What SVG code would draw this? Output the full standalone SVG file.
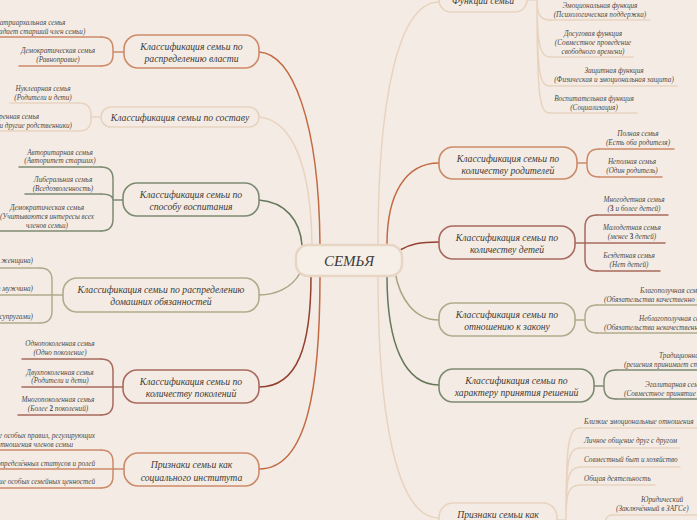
<svg xmlns="http://www.w3.org/2000/svg" width="697" height="520" viewBox="0 0 697 520">
<style>
.t{font-family:"Liberation Serif",serif;font-style:italic;font-size:9.7px;fill:#3d3a37;text-anchor:middle}
.c{font-family:"Liberation Serif",serif;font-style:italic;font-size:7.2px;fill:#4d4946;text-anchor:middle}
.s{text-anchor:start}.e{text-anchor:end}
.b{font-weight:bold;font-style:normal}
.n{fill:#f4ece4;stroke-width:1.6}
.l{fill:none;stroke-width:1.5;stroke-linecap:round}
.or{stroke:#c26a43}.orb{stroke:#cc8a69}
.lb{stroke:#e8d3c0}
.gr{stroke:#66775a}.grb{stroke:#7d8a72}
.ol{stroke:#a9a582}.olb{stroke:#b0ab8c}
.dr{stroke:#94402f}.drb{stroke:#a86a5e}
</style>
<rect width="697" height="520" fill="#f4ece4"/>

<g id="connectors">
  <path class="l or" d="M259,52 C292,54 319,120 320,245"/>
  <path class="l lb" d="M259,117 C292,120 311,165 312,245"/>
  <path class="l gr" d="M259,200 C285,202 300,220 302,245"/>
  <path class="l ol" d="M300,273 C292,288 275,295 259,295"/>
  <path class="l dr" d="M311,276 C311,345 298,387 259,387"/>
  <path class="l or" d="M320,276 C320,385 308,469 259,469"/>
  <path class="l lb" d="M378,244 C378,100 398,2 439,2"/>
  <path class="l or" d="M387,244 C387,195 405,163 439,163"/>
  <path class="l dr" d="M400,250 C410,244 420,242 439,242"/>
  <path class="l ol" d="M395,272 C400,300 415,320 439,320"/>
  <path class="l gr" d="M387,276 C387,345 405,385 439,385"/>
  <path class="l lb" d="M378,276 C378,410 395,518 439,518"/>
  <path class="l orb" d="M124,52 L113,52 M101,37 Q113,37 113,49 L113,55 Q113,66 101,66"/>
  <path class="l lb" d="M101,117 L91,117 M79,103 Q91,103 91,115 L91,119 Q91,131 79,131"/>
  <path class="l grb" d="M123,200 L113,200 M101,167 Q113,167 113,179 L113,219 Q113,231 101,231 M101,194 Q113,194 113,200"/>
  <path class="l olb" d="M63,295 L52,295 M40,268 Q52,268 52,280 L52,311 Q52,323 40,323"/>
  <path class="l drb" d="M123,387 L113,387 M101,359 Q113,359 113,371 L113,403 Q113,415 101,415"/>
  <path class="l orb" d="M124,469 L113,469 M101,450 Q113,450 113,462 L113,476 Q113,488 101,488"/>
  <path class="l lb" d="M527,0 L537,0 M537,0 C537,14 540,20 550,20 M537,0 C537,45 540,57 550,57 M537,0 C537,75 540,86 550,86 M537,0 C537,100 540,113 550,113"/>
  <path class="l orb" d="M577,163 L587,163 M599,149 Q587,149 587,161 L587,165 Q587,177 599,177"/>
  <path class="l drb" d="M575,243 L585,243 M597,215 Q585,215 585,227 L585,259 Q585,271 597,271"/>
  <path class="l olb" d="M575,320 L585,320 M597,305 Q585,305 585,317 L585,321 Q585,333 597,333"/>
  <path class="l grb" d="M594,386 L604,386 M616,370 Q604,370 604,382 L604,387 Q604,399 616,399"/>
  <path class="l lb" d="M557,520 L566,520 M566,520 C566,445 568,428 580,428 M566,520 C566,462 568,448 580,448 M566,520 C566,478 568,467 580,467 M566,520 C566,494 568,485 580,485 M613,515 Q605,515 605,524"/>
</g>

<g id="center">
  <rect x="296" y="245" width="106" height="31" rx="12" fill="#f6efe8" stroke="#e8d5c3" stroke-width="2.5"/>
  <text class="t" x="349" y="266" style="font-size:15px">СЕМЬЯ</text>
</g>

<g id="power">
  <rect class="n orb" x="124" y="35" width="135" height="33" rx="14"/>
  <text class="t" x="191.5" y="50">Классификация семьи по</text>
  <text class="t" x="191.5" y="62">распределению власти</text>
  <g id="power-1"><text class="c" x="30" y="24.5">Патриархальная семья</text><text class="c" x="30" y="33.5">(Преобладает старший член семьи)</text><path class="l orb" d="M-5,37 L101,37"/></g>
  <g id="power-2"><text class="c" x="58" y="52.5">Демократическая семья</text><text class="c" x="58" y="61.5">(Равноправие)</text><path class="l orb" d="M19,66 L101,66"/></g>
</g>

<g id="composition">
  <rect class="n lb" x="101" y="107" width="158" height="20" rx="10"/>
  <text class="t" x="180" y="121">Классификация семьи по составу</text>
  <g id="composition-1"><text class="c" x="43" y="90.5">Нуклеарная семья</text><text class="c" x="43" y="99.5">(Родители и дети)</text><path class="l lb" d="M10,103 L79,103"/></g>
  <g id="composition-2"><text class="c e" x="39" y="118.5">Расширенная семья</text><text class="c e" x="72" y="127.5">(Родители, дети и другие родственники)</text><path class="l lb" d="M-5,131 L79,131"/></g>
</g>

<g id="upbringing">
  <rect class="n grb" x="123" y="183" width="136" height="33" rx="14"/>
  <text class="t" x="191" y="198">Классификация семьи по</text>
  <text class="t" x="191" y="210">способу воспитания</text>
  <g id="upbringing-1"><text class="c" x="60" y="154.5">Авторитарная семья</text><text class="c" x="60" y="163">(Авторитет старших)</text><path class="l grb" d="M19,167 L101,167"/></g>
  <g id="upbringing-2"><text class="c" x="63" y="181.5">Либеральная семья</text><text class="c" x="63" y="190.5">(Вседозволенность)</text><path class="l grb" d="M25,194 L101,194"/></g>
  <g id="upbringing-3"><text class="c" x="47" y="209.5">Демократическая семья</text><text class="c" x="47" y="218.5">(Учитываются интересы всех</text><text class="c" x="47" y="227.5">членов семьи)</text><path class="l grb" d="M-5,231 L101,231"/></g>
</g>

<g id="duties">
  <rect class="n olb" x="63" y="278" width="196" height="34" rx="14"/>
  <text class="t" x="161" y="293">Классификация семьи по распределению</text>
  <text class="t" x="161" y="305">домашних обязанностей</text>
  <g id="duties-1"><text class="c e" x="33" y="262.5">(Обязанности выполняет женщина)</text><path class="l olb" d="M-5,268 L40,268"/></g>
  <g id="duties-2"><text class="c e" x="33" y="290.5">(Обязанности выполняет мужчина)</text><path class="l olb" d="M-5,295 L52,295"/></g>
  <g id="duties-3"><text class="c e" x="33" y="319">(Обязанности распределены между супругами)</text><path class="l olb" d="M-5,323 L40,323"/></g>
</g>

<g id="generations">
  <rect class="n drb" x="123" y="370" width="136" height="33" rx="14"/>
  <text class="t" x="191" y="385">Классификация семьи по</text>
  <text class="t" x="191" y="397">количеству поколений</text>
  <g id="generations-1"><text class="c" x="60" y="346">Однопоколенная семья</text><text class="c" x="60" y="355">(Одно поколение)</text><path class="l drb" d="M22,359 L101,359"/></g>
  <g id="generations-2"><text class="c" x="60" y="374.5">Двухпоколенная семья</text><text class="c" x="60" y="383">(Родители и дети)</text><path class="l drb" d="M22,387 L113,387"/></g>
  <g id="generations-3"><text class="c" x="58" y="402">Многопоколенная семья</text><text class="c" x="58" y="411">(Более <tspan class="b">2</tspan> поколений)</text><path class="l drb" d="M18,415 L101,415"/></g>
</g>

<g id="institution">
  <rect class="n orb" x="124" y="453" width="135" height="33" rx="14"/>
  <text class="t" x="191.5" y="468">Признаки семьи как</text>
  <text class="t" x="191.5" y="481">социального института</text>
  <g id="institution-1"><text class="c e" x="95" y="437.5">Наличие особых правил, регулирующих</text><text class="c e" x="73" y="446.5">взаимоотношения членов семьи</text><path class="l orb" d="M-5,450 L101,450"/></g>
  <g id="institution-2"><text class="c e" x="95" y="465.5">Наличие определённых статусов и ролей</text><path class="l orb" d="M-5,469 L113,469"/></g>
  <g id="institution-3"><text class="c e" x="95" y="484">Наличие особых семейных ценностей</text><path class="l orb" d="M-5,488 L101,488"/></g>
</g>

<g id="functions">
  <rect class="n lb" x="439" y="-14" width="88" height="26" rx="12"/>
  <text class="t" x="483" y="4">Функции семьи</text>
  <g id="functions-1"><text class="c" x="600" y="7.5">Эмоциональная функция</text><text class="c" x="600" y="16.5">(Психологическая поддержка)</text><path class="l lb" d="M550,20 L650,20"/></g>
  <g id="functions-2"><text class="c" x="593" y="35.5">Досуговая функция</text><text class="c" x="593" y="44.5">(Совместное проведение</text><text class="c" x="593" y="53.5">свободного времени)</text><path class="l lb" d="M550,57 L633,57"/></g>
  <g id="functions-3"><text class="c" x="614" y="72.5">Защитная функция</text><text class="c" x="614" y="81.5">(Физическая и эмоциональная защита)</text><path class="l lb" d="M550,86 L677,86"/></g>
  <g id="functions-4"><text class="c" x="594" y="100.5">Воспитательная функция</text><text class="c" x="594" y="109.5">(Социализация)</text><path class="l lb" d="M550,113 L637,113"/></g>
</g>

<g id="parents">
  <rect class="n orb" x="439" y="147" width="138" height="32" rx="14"/>
  <text class="t" x="508" y="162">Классификация семьи по</text>
  <text class="t" x="508" y="174">количеству родителей</text>
  <g id="parents-1"><text class="c" x="638" y="135.5">Полная семья</text><text class="c" x="638" y="144.5">(Есть оба родителя)</text><path class="l orb" d="M599,149 L674,149"/></g>
  <g id="parents-2"><text class="c" x="632" y="163.5">Неполная семья</text><text class="c" x="632" y="172.5">(Один родитель)</text><path class="l orb" d="M599,177 L662,177"/></g>
</g>

<g id="children">
  <rect class="n drb" x="439" y="226" width="136" height="33" rx="14"/>
  <text class="t" x="507" y="241">Классификация семьи по</text>
  <text class="t" x="507" y="253">количеству детей</text>
  <g id="children-1"><text class="c" x="634" y="201.5">Многодетная семья</text><text class="c" x="634" y="210.5">(<tspan class="b">3</tspan> и более детей)</text><path class="l drb" d="M597,215 L668,215"/></g>
  <g id="children-2"><text class="c" x="632" y="229.5">Малодетная семья</text><text class="c" x="632" y="238.5">(менее <tspan class="b">3</tspan> детей)</text><path class="l drb" d="M585,243 L665,243"/></g>
  <g id="children-3"><text class="c" x="629" y="257.5">Бездетная семья</text><text class="c" x="629" y="266.5">(Нет детей)</text><path class="l drb" d="M597,271 L660,271"/></g>
</g>

<g id="law">
  <rect class="n olb" x="439" y="303" width="136" height="33" rx="14"/>
  <text class="t" x="507" y="318">Классификация семьи по</text>
  <text class="t" x="507" y="330">отношению к закону</text>
  <g id="law-1"><text class="c s" x="640" y="292.5">Благополучная семья</text><text class="c s" x="604" y="301.5">(Обязательства качественно выполняются)</text><path class="l olb" d="M597,305 L702,305"/></g>
  <g id="law-2"><text class="c s" x="639" y="320.5">Неблагополучная семья</text><text class="c s" x="604" y="329.5">(Обязательства некачественно выполняются)</text><path class="l olb" d="M597,333 L702,333"/></g>
</g>

<g id="decisions">
  <rect class="n grb" x="439" y="369" width="155" height="33" rx="14"/>
  <text class="t" x="516.5" y="384">Классификация семьи по</text>
  <text class="t" x="516.5" y="396">характеру принятия решений</text>
  <g id="decisions-1"><text class="c s" x="659" y="358">Традиционная семья</text><text class="c s" x="624" y="367">(решения принимает старший член семьи)</text><path class="l grb" d="M616,370 L702,370"/></g>
  <g id="decisions-2"><text class="c s" x="645" y="386.5">Эгалитарная семья</text><text class="c s" x="624" y="395.5">(Совместное принятие решений)</text><path class="l grb" d="M616,399 L702,399"/></g>
</g>

<g id="group-signs">
  <rect class="n lb" x="439" y="503" width="118" height="34" rx="14"/>
  <text class="t" x="498" y="518">Признаки семьи как</text>
  <g id="group-signs-1"><text class="c s" x="584" y="423.5">Близкие эмоциональные отношения</text><path class="l lb" d="M580,428 L702,428"/></g>
  <g id="group-signs-2"><text class="c s" x="584" y="442.5">Личное общение друг с другом</text><path class="l lb" d="M580,448 L680,448"/></g>
  <g id="group-signs-3"><text class="c s" x="584" y="461.5">Совместный быт и хозяйство</text><path class="l lb" d="M580,467 L680,467"/></g>
  <g id="group-signs-4"><text class="c s" x="584" y="480.5">Общая деятельность</text><path class="l lb" d="M580,485 L655,485"/></g>
  <g id="group-signs-5"><text class="c s" x="641" y="501.5">Юридический</text><text class="c s" x="616" y="510.5">(Заключённый в ЗАГСе)</text><path class="l lb" d="M613,515 L702,515"/></g>
</g>
</svg>
